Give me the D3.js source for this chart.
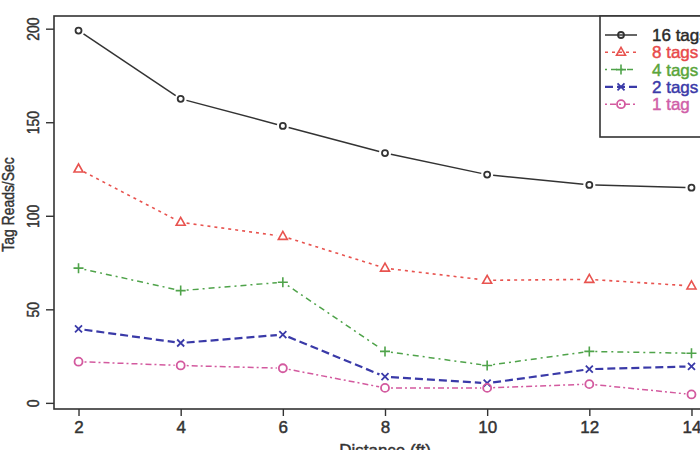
<!DOCTYPE html>
<html>
<head>
<meta charset="utf-8">
<script src="https://cdn.jsdelivr.net/npm/d3@7"></script>
<style>
    body { margin: 0; background: #fff; }
    svg { display: block; font-family: "Liberation Sans", Arial, sans-serif; }
    svg text { stroke-width: 0.45px; }
</style>
</head>
<body>
<div id="chart"></div>
<script>
// Tag read rate vs distance, one series per tag count
const distances = [2, 4, 6, 8, 10, 12, 14];
const tags16 = [199, 162.5, 148, 133.5, 122, 116.5, 115];
const tags8 = [125, 96.5, 89, 72, 65.5, 66, 62.5];
const tags4 = [72, 60, 64.5, 27.5, 20, 27.5, 26.5];
const tags2 = [39.5, 32, 36.5, 14, 10.5, 18, 19.5];
const tags1 = [22, 20, 18.5, 8, 8, 10, 4.5];
const yTicks = [0, 50, 100, 150, 200];
const xTicks = [2, 4, 6, 8, 10, 12, 14];
const seriesNames = ['16 tags', '8 tags', '4 tags', '2 tags', '1 tag'];

const series = [
    { name: seriesNames[0], values: tags16, color: '#333333', text: '#2a2a2a', dash: null, width: 1.5, shape: 'circle' },
    { name: seriesNames[1], values: tags8, color: '#e8534f', text: '#e84a4a', dash: '3,4', width: 1.6, shape: 'triangle' },
    { name: seriesNames[2], values: tags4, color: '#4fa34a', text: '#5aa53a', dash: '2,4,6,4', width: 1.5, shape: 'plus' },
    { name: seriesNames[3], values: tags2, color: '#3a3aa8', text: '#3a3aa8', dash: '8,4', width: 2.2, shape: 'cross' },
    { name: seriesNames[4], values: tags1, color: '#d35a9f', text: '#d060a8', dash: '2,3,6,3', width: 1.5, shape: 'ring' }
];

const width = 700, height = 450;
const plot = { left: 54, top: 16, bottom: 409, right: 716 };

const svg = d3.select('#chart').append('svg')
    .attr('width', width).attr('height', height);

// R-style 4% padding around the data range
const xExt = d3.extent(distances);
const xPad = (xExt[1] - xExt[0]) * 0.04;
const allVals = series.flatMap(s => s.values);
const yExt = d3.extent(allVals);
const yPad = (yExt[1] - yExt[0]) * 0.04;

const x = d3.scaleLinear().domain([xExt[0] - xPad, xExt[1] + xPad]).range([plot.left, plot.right]);
const y = d3.scaleLinear().domain([yExt[0] - yPad, yExt[1] + yPad]).range([plot.bottom, plot.top]);

// Lines with gaps around the points (type = "b")
const gap = 6;
series.forEach(s => {
    const pts = distances.map((d, i) => [x(d), y(s.values[i])]);
    for (let i = 1; i < pts.length; i++) {
        const [x0, y0] = pts[i - 1];
        const [x1, y1] = pts[i];
        const len = Math.hypot(x1 - x0, y1 - y0);
        if (len <= 2 * gap) continue;
        const ux = (x1 - x0) / len, uy = (y1 - y0) / len;
        svg.append('line')
            .attr('x1', x0 + ux * gap).attr('y1', y0 + uy * gap)
            .attr('x2', x1 - ux * gap).attr('y2', y1 - uy * gap)
            .attr('stroke', s.color)
            .attr('stroke-width', s.width)
            .attr('stroke-dasharray', s.dash);
    }
});

function drawMarker(g, shape, cx, cy, color) {
    if (shape === 'circle') {
        g.append('circle').attr('cx', cx).attr('cy', cy).attr('r', 3)
            .attr('fill', 'none').attr('stroke', color).attr('stroke-width', 1.8);
    } else if (shape === 'triangle') {
        const r = 5;
        g.append('path')
            .attr('d', `M${cx},${cy - r}L${cx + r * 0.9},${cy + r * 0.6}L${cx - r * 0.9},${cy + r * 0.6}Z`)
            .attr('fill', 'none').attr('stroke', color).attr('stroke-width', 1.6);
    } else if (shape === 'plus') {
        const r = 5;
        g.append('path')
            .attr('d', `M${cx - r},${cy}H${cx + r}M${cx},${cy - r}V${cy + r}`)
            .attr('stroke', color).attr('stroke-width', 1.6);
    } else if (shape === 'cross') {
        const r = 3.5;
        g.append('path')
            .attr('d', `M${cx - r},${cy - r}L${cx + r},${cy + r}M${cx - r},${cy + r}L${cx + r},${cy - r}`)
            .attr('stroke', color).attr('stroke-width', 1.8);
    } else if (shape === 'ring') {
        g.append('circle').attr('cx', cx).attr('cy', cy).attr('r', 4)
            .attr('fill', 'none').attr('stroke', color).attr('stroke-width', 1.8);
    }
}

const marks = svg.append('g');
series.forEach(s => {
    distances.forEach((d, i) => drawMarker(marks, s.shape, x(d), y(s.values[i]), s.color));
});

// Plot box
svg.append('rect')
    .attr('x', plot.left).attr('y', plot.top)
    .attr('width', plot.right - plot.left).attr('height', plot.bottom - plot.top)
    .attr('fill', 'none').attr('stroke', '#333').attr('stroke-width', 1.6);

// X axis
const xAxis = svg.append('g')
    .attr('transform', `translate(0,${plot.bottom})`)
    .call(d3.axisBottom(x).tickValues(xTicks).tickSize(7).tickPadding(5).tickFormat(d3.format('d')));
xAxis.select('.domain').remove();
xAxis.selectAll('line').attr('stroke', '#333').attr('stroke-width', 1.4);
xAxis.selectAll('text').attr('fill', '#333').attr('stroke', '#333').style('font-size', '17px');

// Y axis, labels rotated as in base R
const yAxis = svg.append('g')
    .attr('transform', `translate(${plot.left},0)`)
    .call(d3.axisLeft(y).tickValues(yTicks).tickSize(8).tickFormat(d3.format('d')));
yAxis.select('.domain').remove();
yAxis.selectAll('line').attr('stroke', '#333').attr('stroke-width', 1.4);
yAxis.selectAll('text')
    .attr('x', null).attr('dy', null)
    .attr('text-anchor', 'middle')
    .attr('fill', '#333').attr('stroke', '#333')
    .style('font-size', '17px')
    .attr('transform', `translate(-15,0) rotate(-90) scale(0.82,1)`);

// Axis titles
svg.append('text')
    .attr('transform', `translate(14,${(plot.top + plot.bottom) / 2 - 8}) rotate(-90) scale(0.82,1)`)
    .attr('text-anchor', 'middle')
    .attr('fill', '#333').attr('stroke', '#333')
    .style('font-size', '17px')
    .text('Tag Reads/Sec');

svg.append('text')
    .attr('x', (plot.left + plot.right) / 2)
    .attr('y', 456)
    .attr('text-anchor', 'middle')
    .attr('fill', '#333').attr('stroke', '#333')
    .style('font-size', '17px')
    .text('Distance (ft)');

// Legend
const legend = svg.append('g').attr('transform', 'translate(600,16)');
legend.append('rect')
    .attr('x', 0).attr('y', 0).attr('width', 140).attr('height', 121)
    .attr('fill', '#fff').attr('stroke', '#333').attr('stroke-width', 1.6);

series.forEach((s, i) => {
    const ly = 19 + i * 17.3;
    legend.append('line')
        .attr('x1', 5).attr('x2', 37).attr('y1', ly).attr('y2', ly)
        .attr('stroke', s.color).attr('stroke-width', s.width)
        .attr('stroke-dasharray', s.dash);
    drawMarker(legend, s.shape, 21, ly, s.color);
    legend.append('text')
        .attr('x', 52).attr('y', ly + 6)
        .attr('fill', s.text).attr('stroke', s.text)
        .style('font-size', '17px')
        .text(s.name);
});
</script>
</body>
</html>
